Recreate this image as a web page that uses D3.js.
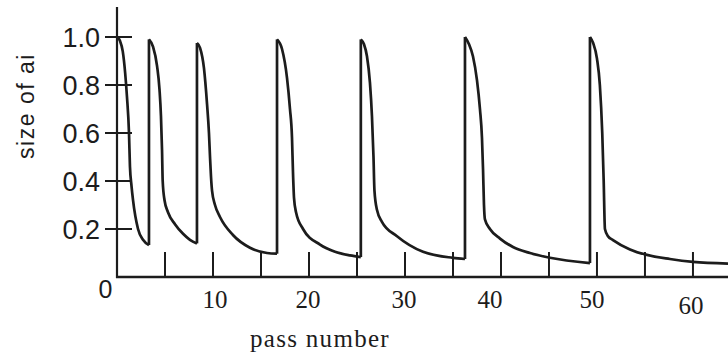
<!DOCTYPE html>
<html>
<head>
<meta charset="utf-8">
<script src="https://cdn.jsdelivr.net/npm/d3@7"></script>
<style>
  html, body { margin: 0; padding: 0; background: #fff; }
  svg { display: block; }
</style>
</head>
<body>
<svg id="chart" width="728" height="361"></svg>
<script>
// Relative size of a_i over successive passes: each cycle starts near 1.0,
// collapses quickly, then decays slowly until the next reset.
const cyclePasses = [
  [0, 0.3, 0.6, 0.85, 1.04, 1.25, 1.35, 1.51, 1.67, 2.19, 2.71, 3.33],
  [3.33, 3.75, 4.17, 4.43, 4.58, 4.69, 4.76, 4.95, 5.31, 6.04, 6.88, 7.6, 8.33],
  [8.33, 8.65, 9.06, 9.38, 9.58, 9.69, 9.79, 9.9, 10.21, 10.73, 12.08, 13.85, 15.63, 16.67],
  [16.67, 17.19, 17.71, 18.02, 18.23, 18.33, 18.44, 18.65, 19.38, 21.15, 22.71, 24.27, 25.4],
  [25.4, 25.73, 26.04, 26.35, 26.56, 26.72, 26.82, 27.08, 27.6, 29.17, 31.88, 35.0, 36.25],
  [36.25, 36.67, 37.08, 37.5, 37.81, 38.02, 38.13, 38.23, 38.33, 38.85, 39.9, 41.25, 43.02, 45.1, 49.27],
  [49.27, 49.6, 50.0, 50.3, 50.55, 50.7, 50.83, 51.15, 51.67, 53.44, 55.21, 57.6, 60.0, 63.65]
];
const cycleSizes = [
  [1.0, 0.985, 0.94, 0.85, 0.75, 0.6, 0.46, 0.38, 0.32, 0.2, 0.155, 0.133],
  [0.99, 0.96, 0.88, 0.78, 0.67, 0.53, 0.4, 0.32, 0.27, 0.22, 0.18, 0.155, 0.14],
  [0.975, 0.955, 0.87, 0.72, 0.6, 0.5, 0.42, 0.36, 0.3, 0.25, 0.175, 0.122, 0.1, 0.097],
  [0.99, 0.95, 0.83, 0.7, 0.58, 0.44, 0.33, 0.27, 0.2, 0.135, 0.105, 0.09, 0.083],
  [0.99, 0.97, 0.92, 0.81, 0.67, 0.5, 0.36, 0.28, 0.23, 0.17, 0.105, 0.08, 0.075],
  [1.0, 0.97, 0.92, 0.82, 0.7, 0.58, 0.45, 0.3, 0.24, 0.2, 0.16, 0.125, 0.1, 0.08, 0.058],
  [1.0, 0.975, 0.91, 0.8, 0.6, 0.4, 0.2, 0.17, 0.154, 0.115, 0.092, 0.075, 0.063, 0.056]
];

const yTicks = [0.2, 0.4, 0.6, 0.8, 1.0];
const yTickLabels = ["0.2", "0.4", "0.6", "0.8", "1.0"];
const xTicks = [5, 10, 15, 20, 25, 30, 35, 40, 45, 50, 55, 60];
const xLabelValues = [10, 20, 30, 40, 50, 60];
const xLabels = ["10", "20", "30", "40", "50", "60"];
const originLabel = "0";
const xTitle = "pass number";
const yTitle = "size of ai";

const ink = "#1c1c1c";
const svg = d3.select("#chart");

const x = d3.scaleLinear().domain([0, 63.65]).range([117, 728]);
const y = d3.scaleLinear().domain([0, 1]).range([277, 37]);

// Axes lines
svg.append("line")
  .attr("x1", x(0)).attr("x2", x(0))
  .attr("y1", y(0) + 1).attr("y2", y(1.125))
  .attr("stroke", ink).attr("stroke-width", 2.2);
svg.append("line")
  .attr("x1", x(0) - 1).attr("x2", x(63.65))
  .attr("y1", y(0)).attr("y2", y(0))
  .attr("stroke", ink).attr("stroke-width", 2.4);

// Y ticks cross the axis on both sides
svg.append("g").selectAll("line").data(yTicks).join("line")
  .attr("x1", x(0) - 12).attr("x2", x(0) + 15)
  .attr("y1", d => y(d)).attr("y2", d => y(d))
  .attr("stroke", ink).attr("stroke-width", 2);

svg.append("g").selectAll("text").data(yTicks).join("text")
  .attr("x", x(0) - 17)
  .attr("y", d => y(d))
  .attr("dy", "0.36em")
  .attr("text-anchor", "end")
  .attr("font-family", "Liberation Sans, Arial, sans-serif")
  .attr("font-size", 27)
  .attr("fill", ink)
  .text((d, i) => yTickLabels[i]);

// X ticks point up into the plot
svg.append("g").selectAll("line").data(xTicks).join("line")
  .attr("x1", d => x(d)).attr("x2", d => x(d))
  .attr("y1", y(0)).attr("y2", y(0) - 25)
  .attr("stroke", ink).attr("stroke-width", 2);

// Hand-lettered x labels sit a little off their ticks
const labelNudge = { 10: [2, 0], 20: [-1, 0], 30: [-1, 0], 40: [-11, 0], 50: [-5, 0], 60: [-2, 6] };
svg.append("g").selectAll("text").data(xLabelValues).join("text")
  .attr("x", d => x(d) + labelNudge[d][0])
  .attr("y", d => y(0) + 31 + labelNudge[d][1])
  .attr("text-anchor", "middle")
  .attr("font-family", "Liberation Serif, Times New Roman, serif")
  .attr("font-size", 25)
  .attr("fill", ink)
  .text((d, i) => xLabels[i]);

svg.append("text")
  .attr("x", x(0) - 11.5)
  .attr("y", y(0) + 21)
  .attr("text-anchor", "middle")
  .attr("font-family", "Liberation Sans, Arial, sans-serif")
  .attr("font-size", 25)
  .attr("fill", ink)
  .text(originLabel);

// Axis titles
svg.append("text")
  .attr("x", 320)
  .attr("y", 347)
  .attr("text-anchor", "middle")
  .attr("font-family", "Liberation Serif, Times New Roman, serif")
  .attr("font-size", 25)
  .attr("letter-spacing", 1.3)
  .attr("fill", ink)
  .text(xTitle);

svg.append("text")
  .attr("transform", "translate(34,106) rotate(-90)")
  .attr("text-anchor", "middle")
  .attr("font-family", "Liberation Sans, Arial, sans-serif")
  .attr("font-size", 23)
  .attr("letter-spacing", 1.5)
  .attr("fill", ink)
  .text(yTitle);

// Curve: smooth decay inside each cycle, vertical reset between cycles
const line = d3.line()
  .x(d => x(d[0]))
  .y(d => y(d[1]))
  .curve(d3.curveMonotoneX);

const cycles = cyclePasses.map((ps, i) => ps.map((p, j) => [p, cycleSizes[i][j]]));

svg.append("g").selectAll("path").data(cycles).join("path")
  .attr("d", line)
  .attr("fill", "none")
  .attr("stroke", ink)
  .attr("stroke-width", 2.7)
  .attr("stroke-linejoin", "round");

const resets = cycles.slice(1).map((c, i) => {
  const prev = cycles[i][cycles[i].length - 1];
  return [[c[0][0], prev[1]], c[0]];
});
svg.append("g").selectAll("path").data(resets).join("path")
  .attr("d", d3.line().x(d => x(d[0])).y(d => y(d[1])))
  .attr("fill", "none")
  .attr("stroke", ink)
  .attr("stroke-width", 2.7);
</script>
</body>
</html>
